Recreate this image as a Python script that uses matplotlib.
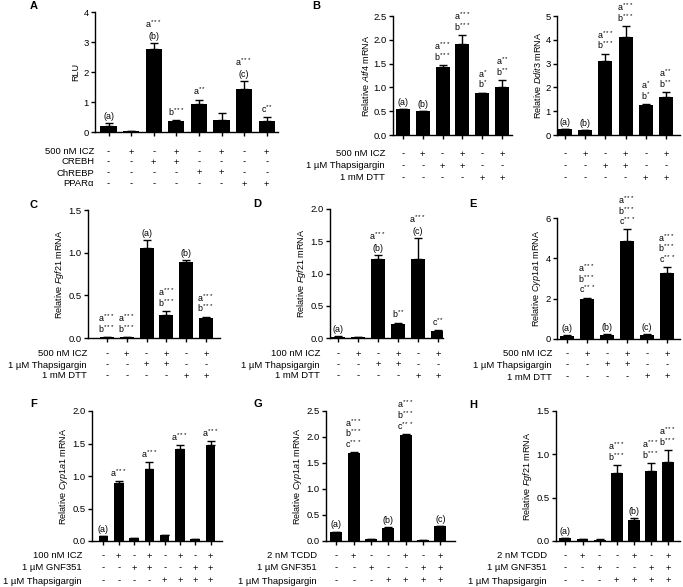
import re

import matplotlib.pyplot as plt
from matplotlib.transforms import blended_transform_factory

plt.rcParams["font.family"] = ["Liberation Sans", "DejaVu Sans"]
plt.rcParams["mathtext.fontset"] = "custom"
plt.rcParams["mathtext.rm"] = "Liberation Sans"
plt.rcParams["mathtext.it"] = "Liberation Sans:italic"
plt.rcParams["mathtext.bf"] = "Liberation Sans:bold"
plt.rcParams["axes.linewidth"] = 1.0

# ---- data ----
# A: luciferase
a_mean = [0.19, 0.03, 2.78, 0.36, 0.92, 0.39, 1.42, 0.37]
a_err = [0.11, 0.01, 0.19, 0.05, 0.16, 0.24, 0.28, 0.13]
a_notes = ["(a)", "", "a***\n(b)", "b***", "a**", "", "a***\n(c)", "c**"]
a_rows = ["500 nM ICZ", "CREBH", "ChREBP", "PPARα"]
a_signs = ["-+-+-+-+", "--++----", "----++--", "------++"]

# B: Atf4 and Ddit3
b1_mean = [0.54, 0.50, 1.42, 1.92, 0.88, 1.01]
b1_err = [0.01, 0.005, 0.05, 0.18, 0.01, 0.15]
b1_notes = ["(a)", "(b)", "a***\nb***", "a***\nb***", "a*\nb*", "a**\nb**"]
b2_mean = [0.24, 0.21, 3.10, 4.12, 1.27, 1.61]
b2_err = [0.01, 0.01, 0.32, 0.47, 0.02, 0.21]
b2_notes = ["(a)", "(b)", "a***\nb***", "a***\nb***", "a*\nb*", "a**\nb**"]
b_rows = ["500 nM ICZ", "1 µM Thapsigargin", "1 mM DTT"]
b_signs = ["-+-+-+", "--++--", "----++"]

# C: Fgf21, 500 nM ICZ
c_mean = [0.01, 0.01, 1.05, 0.27, 0.89, 0.23]
c_err = [0.003, 0.003, 0.10, 0.05, 0.02, 0.02]
c_notes = ["a***\nb***", "a***\nb***", "(a)", "a***\nb***", "(b)", "a***\nb***"]

# D: Fgf21, 100 nM ICZ
d_mean = [0.02, 0.01, 1.22, 0.22, 1.23, 0.11]
d_err = [0.005, 0.003, 0.07, 0.02, 0.32, 0.01]
d_notes = ["(a)", "", "a***\n(b)", "b**", "a***\n(c)", "c**"]
d_rows = ["100 nM ICZ", "1 µM Thapsigargin", "1 mM DTT"]

# E: Cyp1a1, 500 nM ICZ
e_mean = [0.17, 1.98, 0.22, 4.88, 0.22, 3.28]
e_err = [0.01, 0.07, 0.01, 0.55, 0.01, 0.28]
e_notes = ["(a)", "a***\nb***\nc***", "(b)", "a***\nb***\nc***", "(c)", "a***\nb***\nc***"]

# F: Cyp1a1, ICZ + GNF351
f_mean = [0.07, 0.90, 0.04, 1.11, 0.09, 1.41, 0.03, 1.48]
f_err = [0.005, 0.02, 0.005, 0.10, 0.005, 0.07, 0.005, 0.06]
f_notes = ["(a)", "a***", "", "a***", "", "a***", "", "a***"]
f_rows = ["100 nM ICZ", "1 µM GNF351", "1 µM Thapsigargin"]
f_signs = ["-+-+-+-+", "--++--++", "----++++"]

# G: Cyp1a1, TCDD + GNF351
g_mean = [0.17, 1.69, 0.03, 0.25, 2.04, 0.01, 0.28]
g_err = [0.01, 0.02, 0.003, 0.01, 0.02, 0.002, 0.01]
g_notes = ["(a)", "a***\nb***\nc***", "", "(b)", "a***\nb***\nc***", "", "(c)"]
gh_rows = ["2 nM TCDD", "1 µM GNF351", "1 µM Thapsigargin"]
gh_signs = ["-+--+-+", "--+--++", "---++++"]

# H: Fgf21, TCDD + GNF351
h_mean = [0.03, 0.02, 0.015, 0.79, 0.24, 0.81, 0.91]
h_err = [0.005, 0.003, 0.003, 0.09, 0.02, 0.09, 0.14]
h_notes = ["(a)", "", "", "a***\nb***", "(b)", "a***\nb***", "a***\nb***"]

W, H = 683, 587
FS = 6.8
NFS = 6.4
fig = plt.figure(figsize=(W / 100, H / 100), dpi=100)


def star(s):
    return re.sub(r"(\*+)", lambda m: "$^{" + m.group(1) + "}$", s)


def panel(box, mean, err, notes, xlim, ymax, yticks, ylabel, width=0.7,
          rows=None, signs=None, row_y=(), label_x=None):
    left, right, top, bottom = box
    ax = fig.add_axes([left / W, 1 - bottom / H, (right - left) / W, (bottom - top) / H])
    x = list(range(len(mean)))
    ax.bar(x, mean, width=width, color="black", zorder=2)
    ax.errorbar(x, mean, yerr=[[0] * len(err), err], fmt="none", ecolor="black",
                elinewidth=1.0, capsize=2.8, capthick=1.0, zorder=3)
    ax.set_xlim(*xlim)
    ax.set_ylim(0, ymax)
    ax.set_yticks(yticks)
    ax.set_xticks(x)
    ax.set_xticklabels([])
    ax.spines[["top", "right"]].set_visible(False)
    ax.tick_params(axis="both", direction="out", length=3, width=1.0,
                   labelsize=FS, pad=1.5)
    ax.set_ylabel(ylabel, fontsize=FS - 0.3, labelpad=2)
    # significance letters, stacked from the bar upward
    for i, note in enumerate(notes):
        if not note:
            continue
        for k, line in enumerate(reversed(note.split("\n"))):
            ax.annotate(star(line), xy=(i, mean[i] + err[i]),
                        xytext=(0, 3.0 + 7.7 * k), textcoords="offset points",
                        ha="center", va="baseline", fontsize=NFS,
                        annotation_clip=False)
    tr = blended_transform_factory(ax.transData, fig.transFigure)
    for r, sg in enumerate(signs or []):
        yf = 1 - row_y[r] / H
        for i, ch in enumerate(sg):
            ax.text(i, yf, ch, transform=tr, ha="center", va="center", fontsize=FS)
        if rows and label_x is not None:
            fig.text(label_x / W, yf, rows[r], ha="right", va="center", fontsize=FS)
    return ax


def letter(s, x, y):
    fig.text(x / W, 1 - y / H, s, fontsize=8, fontweight="bold", ha="center", va="center")


# A
panel((95, 278, 12, 132), a_mean, a_err, a_notes, (-0.6, 7.5), 4, [0, 1, 2, 3, 4], "RLU",
      width=0.72, rows=a_rows, signs=a_signs, row_y=(152, 162, 173, 184), label_x=94)
letter("A", 34, 6)

# B
panel((393, 512, 16, 135), b1_mean, b1_err, b1_notes, (-0.5, 5.5), 2.5,
      [0, 0.5, 1.0, 1.5, 2.0, 2.5], r"Relative $\mathit{Atf4}$ mRNA",
      rows=b_rows, signs=b_signs, row_y=(154, 166, 178), label_x=385)
panel((557, 680, 16, 135), b2_mean, b2_err, b2_notes, (-0.4, 5.7), 5,
      [0, 1, 2, 3, 4, 5], r"Relative $\mathit{Ddit3}$ mRNA",
      signs=b_signs, row_y=(154, 166, 178))
letter("B", 316, 6)

# C
panel((88, 220, 210, 338), c_mean, c_err, c_notes, (-0.95, 5.7), 1.5,
      [0, 0.5, 1.0, 1.5], r"Relative $\mathit{Fgf21}$ mRNA",
      rows=b_rows, signs=b_signs, row_y=(354, 365, 376), label_x=87)
letter("C", 34, 205)

# D
panel((330, 443, 209, 338), d_mean, d_err, d_notes, (-0.4, 5.25), 2.0,
      [0, 0.5, 1.0, 1.5, 2.0], r"Relative $\mathit{Fgf21}$ mRNA",
      rows=d_rows, signs=b_signs, row_y=(354, 365, 376), label_x=320)
letter("D", 257, 204)

# E
panel((557, 680, 218, 339), e_mean, e_err, e_notes, (-0.5, 5.65), 6,
      [0, 2, 4, 6], r"Relative $\mathit{Cyp1a1}$ mRNA",
      rows=b_rows, signs=b_signs, row_y=(354, 365, 377), label_x=552)
letter("E", 473, 204)

# F
panel((92, 222, 411, 541), f_mean, f_err, f_notes, (-0.75, 7.75), 2.0,
      [0, 0.5, 1.0, 1.5, 2.0], r"Relative $\mathit{Cyp1a1}$ mRNA", width=0.62,
      rows=f_rows, signs=f_signs, row_y=(556, 568, 581), label_x=82)
letter("F", 34, 404)

# G
panel((326, 455, 411, 541), g_mean, g_err, g_notes, (-0.6, 6.85), 2.5,
      [0, 0.5, 1.0, 1.5, 2.0, 2.5], r"Relative $\mathit{Cyp1a1}$ mRNA",
      rows=gh_rows, signs=gh_signs, row_y=(556, 568, 581), label_x=317)
letter("G", 258, 404)

# H
panel((556, 680, 411, 541), h_mean, h_err, h_notes, (-0.55, 6.7), 1.5,
      [0, 0.5, 1.0, 1.5], r"Relative $\mathit{Fgf21}$ mRNA",
      rows=gh_rows, signs=gh_signs, row_y=(556, 568, 581), label_x=547)
letter("H", 473, 405)

fig.savefig("out.png", dpi=100)
